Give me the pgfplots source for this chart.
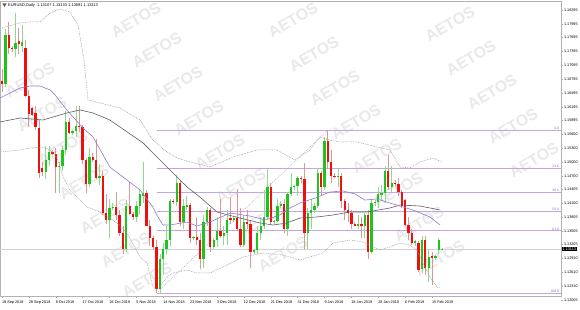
\documentclass[border=0pt]{standalone}
\usepackage{fontspec}
\setmainfont{Liberation Sans}
\usepackage{pgfplots}
\usepackage{pgfplotstable}
\pgfplotsset{compat=1.18}
\definecolor{bullbody}{RGB}{30,195,30}
\definecolor{bearbody}{RGB}{240,15,15}
\definecolor{bullwick}{RGB}{140,220,140}
\definecolor{bearwick}{RGB}{225,150,150}
\definecolor{fibc}{RGB}{195,165,225}
\definecolor{fibtxt}{RGB}{150,110,200}
\definecolor{smapurple}{RGB}{150,120,205}
\definecolor{smagray}{RGB}{95,95,95}
\definecolor{bbgray}{RGB}{150,150,150}
\definecolor{wm}{RGB}{233,233,233}

\pgfplotstableread{
i o h l c
0 1.1675 1.1702 1.1652 1.1668
1 1.1668 1.1788 1.1662 1.1775
2 1.1775 1.1803 1.1735 1.1748
3 1.1748 1.1752 1.1738 1.1745
4 1.1745 1.1822 1.1728 1.1758
5 1.1762 1.1790 1.1735 1.1755
6 1.1752 1.1798 1.1738 1.1760
7 1.1747 1.1765 1.1640 1.1642
8 1.1642 1.1657 1.1575 1.1604
9 1.1617 1.1620 1.1600 1.1602
10 1.1605 1.1622 1.1570 1.1576
11 1.1574 1.1590 1.1465 1.1476
12 1.1487 1.1500 1.1470 1.1478
13 1.1478 1.1535 1.1463 1.1505
14 1.1505 1.1535 1.1490 1.1522
15 1.1522 1.1525 1.1515 1.1518
16 1.1518 1.1530 1.1432 1.1488
17 1.1488 1.1500 1.1432 1.1492
18 1.1492 1.1535 1.1480 1.1525
19 1.1525 1.1610 1.1515 1.1587
20 1.1587 1.1595 1.1560 1.1562
21 1.1562 1.1570 1.1558 1.1566
22 1.1566 1.1622 1.1555 1.1578
23 1.1578 1.1621 1.1565 1.1575
24 1.1575 1.1580 1.1495 1.1505
25 1.1505 1.1508 1.1432 1.1452
26 1.1452 1.1530 1.1445 1.1510
27 1.1510 1.1520 1.1500 1.1505
28 1.1505 1.1550 1.1462 1.1465
29 1.1465 1.1495 1.1450 1.1470
30 1.1470 1.1480 1.1385 1.1390
31 1.1390 1.1430 1.1365 1.1375
32 1.1375 1.1420 1.1335 1.1400
33 1.1400 1.1410 1.1395 1.1402
34 1.1402 1.1435 1.1375 1.1385
35 1.1385 1.1395 1.1340 1.1345
36 1.1345 1.1360 1.1300 1.1310
37 1.1310 1.1417 1.1305 1.1405
38 1.1405 1.1456 1.1385 1.1388
39 1.1388 1.1392 1.1375 1.1380
40 1.1380 1.1415 1.1370 1.1405
41 1.1405 1.1440 1.1385 1.1430
42 1.1425 1.1500 1.1410 1.1432
43 1.1432 1.1440 1.1360 1.1362
44 1.1362 1.1375 1.1318 1.1335
45 1.1335 1.1340 1.1310 1.1315
46 1.1315 1.1330 1.1216 1.1224
47 1.1224 1.1300 1.1216 1.1290
48 1.1290 1.1325 1.1255 1.1310
49 1.1310 1.1362 1.1300 1.1330
50 1.1330 1.1420 1.1315 1.1415
51 1.1415 1.1420 1.1408 1.1412
52 1.1412 1.1472 1.1405 1.1455
53 1.1455 1.1460 1.1360 1.1370
54 1.1370 1.1420 1.1355 1.1405
55 1.1402 1.1425 1.1395 1.1407
56 1.1407 1.1410 1.1325 1.1335
57 1.1335 1.1340 1.1330 1.1338
58 1.1338 1.1380 1.1320 1.1330
59 1.1330 1.1345 1.1267 1.1290
60 1.1290 1.1385 1.1270 1.1370
61 1.1370 1.1402 1.1360 1.1395
62 1.1395 1.1400 1.1305 1.1315
63 1.1315 1.1335 1.1310 1.1330
64 1.1330 1.1380 1.1315 1.1350
65 1.1350 1.1420 1.1335 1.1340
66 1.1340 1.1360 1.1320 1.1345
67 1.1345 1.1395 1.1320 1.1375
68 1.1378 1.1423 1.1365 1.1374
69 1.1374 1.1380 1.1370 1.1378
70 1.1378 1.1442 1.1350 1.1355
71 1.1355 1.1400 1.1315 1.1320
72 1.1320 1.1385 1.1315 1.1370
73 1.1370 1.1395 1.1355 1.1365
74 1.1365 1.1375 1.1269 1.1305
75 1.1305 1.1312 1.1300 1.1308
76 1.1308 1.1360 1.1300 1.1345
77 1.1345 1.1380 1.1330 1.1360
78 1.1360 1.1440 1.1355 1.1380
79 1.1380 1.1485 1.1375 1.1445
80 1.1445 1.1455 1.1365 1.1370
81 1.1370 1.1375 1.1365 1.1372
82 1.1372 1.1420 1.1370 1.1405
83 1.1405 1.1415 1.1400 1.1408
84 1.1408 1.1420 1.1345 1.1355
85 1.1355 1.1435 1.1340 1.1430
86 1.1430 1.1475 1.1425 1.1445
87 1.1445 1.1450 1.1440 1.1447
88 1.1447 1.1470 1.1425 1.1465
89 1.1465 1.1470 1.1455 1.1462
90 1.1462 1.1497 1.1310 1.1345
91 1.1345 1.1400 1.1310 1.1390
92 1.1390 1.1420 1.1355 1.1395
93 1.1395 1.1410 1.1390 1.1405
94 1.1405 1.1485 1.1400 1.1475
95 1.1475 1.1480 1.1425 1.1445
96 1.1445 1.1555 1.1440 1.1545
97 1.1545 1.1570 1.1485 1.1500
98 1.1500 1.1525 1.1455 1.1470
99 1.1470 1.1475 1.1465 1.1468
100 1.1468 1.1485 1.1445 1.1470
101 1.1470 1.1475 1.1400 1.1415
102 1.1415 1.1420 1.1375 1.1395
103 1.1395 1.1410 1.1370 1.1390
104 1.1390 1.1395 1.1355 1.1365
105 1.1365 1.1370 1.1360 1.1362
106 1.1362 1.1385 1.1355 1.1365
107 1.1365 1.1380 1.1335 1.1360
108 1.1360 1.1390 1.1335 1.1385
109 1.1385 1.1395 1.1290 1.1305
110 1.1305 1.1420 1.1300 1.1410
111 1.1410 1.1418 1.1405 1.1412
112 1.1412 1.1445 1.1400 1.1430
113 1.1428 1.1450 1.1415 1.1432
114 1.1432 1.1490 1.1410 1.1480
115 1.1480 1.1515 1.1440 1.1445
116 1.1445 1.1490 1.1435 1.1455
117 1.1455 1.1460 1.1448 1.1452
118 1.1452 1.1465 1.1425 1.1435
119 1.1435 1.1440 1.1400 1.1405
120 1.1417 1.1420 1.1360 1.1363
121 1.1363 1.1380 1.1330 1.1345
122 1.1345 1.1355 1.1320 1.1325
123 1.1325 1.1330 1.1318 1.1328
124 1.1324 1.1328 1.1262 1.1266
125 1.1268 1.1340 1.1260 1.1331
126 1.1330 1.1340 1.1255 1.1270
127 1.1270 1.1310 1.1240 1.1294
128 1.1295 1.1305 1.1233 1.1292
129 1.1292 1.1298 1.1288 1.1295
130 1.1309 1.1335 1.1300 1.1330
131 1.13107 1.13133 1.13091 1.13113
}\ohlc

\begin{document}
\begin{tikzpicture}[x=1bp,y=1bp]
\path[use as bounding box] (0,0) rectangle (580,309);
\fill[white] (0,0) rectangle (580,309);
% watermarks (px from top)
\foreach \px/\py in {
 30/80,42/114,63/148,84/182,105/216,126/250,147/280,
 136/20,157/50,178/84,199/118,220/152,241/186,262/220,283/254,
 293/20,314/54,335/88,356/122,377/156,398/190,419/224,440/258,
 450/24,471/58,492/92,513/126,534/160}
{\node[rotate=31, text=wm, font=\bfseries\fontsize{16}{16}\selectfont, inner sep=0] at (\px,309-\py) {AETOS};}

\begin{axis}[
  at={(0bp,13bp)}, anchor=south west,
  width=561bp, height=294.5bp, scale only axis,
  xmin=-0.6, xmax=166.4, ymin=1.12091, ymax=1.18479,
  clip=false,
  axis line style={draw=gray!60, line width=0.5bp},
  tick style={draw=gray!70, line width=0.4bp},
  tick align=outside, major tick length=2bp,
  xtick={0,8,...,128}, xtick pos=left,
  xticklabels={19 Sep 2018,28 Sep 2018,8 Oct 2018,17 Oct 2018,26 Oct 2018,5 Nov 2018,14 Nov 2018,23 Nov 2018,3 Dec 2018,12 Dec 2018,21 Dec 2018,31 Dec 2018,9 Jan 2019,18 Jan 2019,28 Jan 2019,6 Feb 2019,15 Feb 2019},
  xticklabel style={anchor=north west, font=\fontsize{3.8}{4}\selectfont, inner sep=0.3bp, xshift=-0.5bp, yshift=-2bp},
  ytick={1.18295,1.17995,1.17695,1.17395,1.17095,1.16795,1.16495,1.16195,1.15895,1.15600,1.15300,1.15000,1.14700,1.14405,1.14100,1.13805,1.13505,1.13205,1.12910,1.12610,1.12310},
  yticklabels={1.18295,1.17995,1.17695,1.17395,1.17095,1.16795,1.16495,1.16195,1.15895,1.15600,1.15300,1.15000,1.14700,1.14405,1.14100,1.13805,1.13505,1.13205,1.12910,1.12610,1.12310},
  ytick pos=right, yticklabel pos=right,
  yticklabel style={anchor=west, font=\fontsize{3.8}{4}\selectfont, inner sep=0.3bp, xshift=0.5bp},
]
% current price line
\addplot[gray!35, line width=0.5bp, forget plot] coordinates {(-0.6,1.13113) (166.4,1.13113)};
% fibonacci levels
\addplot[fibc, line width=0.7bp, forget plot] coordinates {(46,1.15692) (166.4,1.15692)};
\addplot[fibc, line width=0.7bp, forget plot] coordinates {(46,1.14858) (166.4,1.14858)};
\addplot[fibc, line width=0.7bp, forget plot] coordinates {(46,1.14341) (166.4,1.14341)};
\addplot[fibc, line width=0.7bp, forget plot] coordinates {(46,1.13924) (166.4,1.13924)};
\addplot[fibc, line width=0.7bp, forget plot] coordinates {(46,1.13507) (166.4,1.13507)};
\addplot[fibc, line width=0.7bp, forget plot] coordinates {(46,1.12156) (166.4,1.12156)};
\addplot[fibc, line width=0.5bp, dash pattern=on 1bp off 1bp, forget plot] coordinates {(46,1.12156) (97,1.15692)};
% wicks
\addplot[draw=none, mark=none, forget plot, unbounded coords=discard,
  error bars/.cd, y dir=plus, y explicit, error mark=none,
  error bar style={draw=bullwick, line width=0.8bp}]
  table[x=i, y expr={\thisrow{c}>=\thisrow{o} ? \thisrow{l} : nan}, y error expr={\thisrow{h}-\thisrow{l}}] {\ohlc};
\addplot[draw=none, mark=none, forget plot, unbounded coords=discard,
  error bars/.cd, y dir=plus, y explicit, error mark=none,
  error bar style={draw=bearwick, line width=0.8bp}]
  table[x=i, y expr={\thisrow{c}<\thisrow{o} ? \thisrow{l} : nan}, y error expr={\thisrow{h}-\thisrow{l}}] {\ohlc};
% bodies
\addplot[draw=none, mark=none, forget plot, unbounded coords=discard,
  error bars/.cd, y dir=plus, y explicit, error mark=none,
  error bar style={draw=bullbody, line width=2.3bp}]
  table[x=i, y expr={\thisrow{c}>=\thisrow{o} ? \thisrow{o} : nan}, y error expr={max(\thisrow{c}-\thisrow{o},0.00006)}] {\ohlc};
\addplot[draw=none, mark=none, forget plot, unbounded coords=discard,
  error bars/.cd, y dir=plus, y explicit, error mark=none,
  error bar style={draw=bearbody, line width=2.3bp}]
  table[x=i, y expr={\thisrow{c}<\thisrow{o} ? \thisrow{c} : nan}, y error expr={max(\thisrow{o}-\thisrow{c},0.00006)}] {\ohlc};
% 50-period MA (gray)
\addplot[smagray, line width=0.6bp, forget plot] coordinates {
(-0.6,1.15866) (5.4,1.15952) (12.2,1.15909) (19.3,1.16061) (23.2,1.16126) (27.1,1.16061) (32.1,1.15909) (42,1.15410) (49.1,1.14889) (55.1,1.14455) (58.9,1.14238) (64,1.13913) (70.8,1.13783) (76.8,1.13675) (80.7,1.13631) (84.8,1.13675) (88.7,1.13783) (93.8,1.13805) (98.5,1.13848) (103.6,1.13913) (108.6,1.13913) (115.5,1.14000) (118.5,1.14065) (124.4,1.14043) (130.4,1.13957)};
% 20-period MA (purple)
\addplot[smapurple, line width=0.6bp, forget plot] coordinates {
(-0.6,1.16386) (5.4,1.16603) (8.3,1.16646) (11.3,1.16646) (14.3,1.16560) (15.8,1.16451) (19.3,1.16126) (24.1,1.15735) (27.1,1.15540) (32.1,1.14889) (37.2,1.14607) (41.1,1.14390) (44.9,1.14022) (46.1,1.13848) (47.9,1.13631) (50,1.13631) (55.1,1.13696) (58,1.13609) (61.9,1.13696) (67.9,1.13891) (73.8,1.13826) (78.3,1.13740) (82.7,1.13848) (85.7,1.14000) (88.7,1.14108) (93.2,1.14217) (97.6,1.14347) (101.5,1.14369) (105.1,1.14304) (108,1.14173) (111.6,1.14195) (115.5,1.14108) (122.3,1.13957) (127.4,1.13805) (130.4,1.13631)};
% Bollinger upper
\addplot[bbgray, line width=0.5bp, dash pattern=on 0.8bp off 0.9bp, forget plot] coordinates {
(0,1.17905) (5.4,1.18013) (8.3,1.18035) (11.3,1.18035) (14.3,1.18230) (17.3,1.18317) (20.2,1.18252) (22.6,1.17970) (24.4,1.17210) (25.6,1.16343) (29.2,1.16278) (35.1,1.16169) (41.1,1.15909) (44.9,1.15475) (49.1,1.15215) (52.1,1.15085) (56,1.14998) (61.9,1.14889) (68.8,1.15106) (75.9,1.15258) (81.8,1.15258) (87.2,1.15041) (91.7,1.15258) (94.6,1.15540) (97.6,1.15475) (100.6,1.15432) (105.7,1.15432) (111.6,1.15323) (115.5,1.15258) (118.5,1.14889) (121.4,1.14868) (124.4,1.14998) (128.3,1.15085) (131,1.14998)};
% Bollinger lower
\addplot[bbgray, line width=0.5bp, dash pattern=on 0.8bp off 0.9bp, forget plot] coordinates {
(-0.6,1.15215) (5.4,1.15258) (8.3,1.15302) (12.2,1.15323) (14.3,1.15258) (16.4,1.15085) (18.2,1.14672) (20.2,1.14390) (23.2,1.14173) (25.3,1.14022) (29.2,1.13913) (34.2,1.13675) (37.2,1.13458) (41.1,1.12937) (43.2,1.12807) (44.9,1.12287) (46.1,1.12222) (49.1,1.12504) (50.9,1.12590) (55.1,1.12655) (58,1.12590) (61.9,1.12590) (65.8,1.12720) (71.7,1.12937) (77.7,1.13024) (83.6,1.12980) (88.7,1.12872) (95.5,1.13024) (98.5,1.13241) (103.6,1.13306) (107.4,1.13262) (112.5,1.13089) (115.5,1.13154) (118.5,1.13241) (121.4,1.13197) (123.5,1.13089) (125.3,1.12807) (127.4,1.12504) (129.5,1.12287) (130.4,1.12265)};
% fib labels
\node[anchor=south east, text=fibtxt, font=\fontsize{3.4}{3.4}\selectfont, inner sep=0.4bp] at (axis cs:166,1.15692) {0.0};
\node[anchor=south east, text=fibtxt, font=\fontsize{3.4}{3.4}\selectfont, inner sep=0.4bp] at (axis cs:166,1.14858) {23.6};
\node[anchor=south east, text=fibtxt, font=\fontsize{3.4}{3.4}\selectfont, inner sep=0.4bp] at (axis cs:166,1.14341) {38.2};
\node[anchor=south east, text=fibtxt, font=\fontsize{3.4}{3.4}\selectfont, inner sep=0.4bp] at (axis cs:166,1.13924) {50.0};
\node[anchor=south east, text=fibtxt, font=\fontsize{3.4}{3.4}\selectfont, inner sep=0.4bp] at (axis cs:166,1.13507) {61.8};
\node[anchor=south east, text=fibtxt, font=\fontsize{3.4}{3.4}\selectfont, inner sep=0.4bp] at (axis cs:166,1.12156) {100.0};
\coordinate (cp) at (axis cs:166.4,1.13113);
\coordinate (lowlab) at (axis cs:166.4,1.12005);
\end{axis}
\node[fill=black, text=white, anchor=west, font=\fontsize{3.8}{4}\selectfont, inner sep=0.6bp] at ([xshift=0.8bp]cp) {1.13113};
\draw[gray!70, line width=0.4bp] (lowlab) -- ++(2,0);
\node[anchor=west, font=\fontsize{3.8}{4}\selectfont, inner sep=0.3bp] at ([xshift=2.5bp]lowlab) {1.12005};
% header
\fill[black!65] (2.5,305.5) -- (6.5,305.5) -- (4.5,302) -- cycle;
\node[anchor=west, font=\fontsize{4}{4.8}\selectfont, inner sep=0] at (8,303.5) {EURUSD,Daily\ \ 1.13107 1.13133 1.13091 1.13113};
\end{tikzpicture}
\end{document}
